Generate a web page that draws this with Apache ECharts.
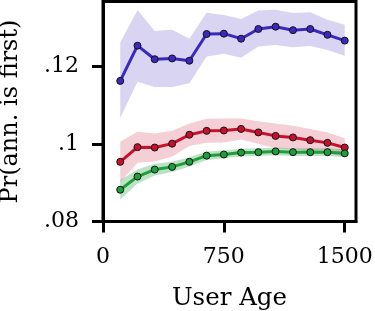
<!DOCTYPE html>
<html>
<head>
<meta charset="utf-8">
<script src="https://cdn.jsdelivr.net/npm/echarts@6/dist/echarts.min.js"></script>
<style>html,body{margin:0;padding:0;background:#fff;}#c{width:375px;height:311px;}</style>
</head>
<body>
<div id="c"></div>
<script>
const userAge = [107, 214, 321, 429, 536, 643, 750, 857, 964, 1071, 1179, 1286, 1393, 1500];

const purpleMean  = [0.1163, 0.1254, 0.1219, 0.1221, 0.1215, 0.1284, 0.1285, 0.1272, 0.1297, 0.1303, 0.1294, 0.1297, 0.1282, 0.1267];
const purpleUpper = [0.1262, 0.1346, 0.1292, 0.1295, 0.1272, 0.1339, 0.1333, 0.1323, 0.1345, 0.1347, 0.1338, 0.1340, 0.1321, 0.1308];
const purpleLower = [0.1067, 0.1161, 0.1147, 0.1147, 0.1157, 0.1226, 0.1233, 0.1223, 0.1252, 0.1256, 0.1250, 0.1253, 0.1243, 0.1228];

const redMean  = [0.0954, 0.0992, 0.0991, 0.1001, 0.1024, 0.1034, 0.1035, 0.1039, 0.1030, 0.1021, 0.1017, 0.1010, 0.1003, 0.0991];
const redUpper = [0.1006, 0.1032, 0.1027, 0.1034, 0.1053, 0.1065, 0.1066, 0.1066, 0.1059, 0.1053, 0.1047, 0.1039, 0.1030, 0.1015];
const redLower = [0.0902, 0.0952, 0.0955, 0.0968, 0.0995, 0.1003, 0.1004, 0.1012, 0.1001, 0.0989, 0.0987, 0.0981, 0.0976, 0.0967];

const greenMean  = [0.0882, 0.0916, 0.0934, 0.0941, 0.0954, 0.0970, 0.0973, 0.0978, 0.0979, 0.0981, 0.0979, 0.0979, 0.0979, 0.0976];
const greenUpper = [0.0907, 0.0934, 0.0949, 0.0954, 0.0966, 0.0981, 0.0983, 0.0988, 0.0989, 0.0991, 0.0989, 0.0989, 0.0989, 0.0986];
const greenLower = [0.0857, 0.0898, 0.0919, 0.0928, 0.0942, 0.0959, 0.0963, 0.0968, 0.0969, 0.0971, 0.0969, 0.0969, 0.0969, 0.0966];

const xTicks = [0, 750, 1500];
const xTickLabels = ['0', '750', '1500'];
const yTicks = [0.08, 0.1, 0.12];
const yTickLabels = ['.08', '.1', '.12'];

const FONT = 'DejaVu Serif';

function band(name, lower, upper, color, z) {
  return {
    name: name, type: 'custom', z: z, silent: true, animation: false,
    data: userAge.map((x, i) => [x, lower[i], upper[i]]),
    encode: { x: 0, y: [1, 2] },
    renderItem: function (params, api) {
      if (params.dataIndex !== 0) return null;
      const n = userAge.length;
      const top = [], bot = [];
      for (let i = 0; i < n; i++) {
        top.push(api.coord([userAge[i], upper[i]]));
        bot.push(api.coord([userAge[i], lower[i]]));
      }
      const pts = top.concat(bot.reverse());
      return { type: 'polygon', shape: { points: pts }, style: { fill: color }, z2: 0 };
    }
  };
}

function meanLine(name, ys, color) {
  return {
    name: name, type: 'line', data: userAge.map((x, i) => [x, ys[i]]),
    symbol: 'circle', symbolSize: 7, showAllSymbol: true,
    lineStyle: { color: color, width: 3 },
    itemStyle: { color: color, borderColor: '#111', borderWidth: 1 },
    z: 5, animation: false
  };
}

const chart = echarts.init(document.getElementById('c'), null, { renderer: 'canvas' });
chart.setOption({
  animation: false,
  grid: {
    left: 103, right: 19, top: 1.5, bottom: 89.5,
    outerBoundsMode: 'none', containLabel: false,
    show: true, borderColor: '#000', borderWidth: 3, backgroundColor: 'transparent'
  },
  xAxis: {
    type: 'value', min: 0, max: 1570,
    name: 'User Age', nameLocation: 'middle', nameGap: 65,
    nameTextStyle: { fontFamily: FONT, fontSize: 24.5, color: '#000' },
    axisLine: { show: true, lineStyle: { color: '#000', width: 3 } },
    axisTick: { show: true, inside: false, length: 11, lineStyle: { color: '#000', width: 3 }, customValues: xTicks },
    axisLabel: {
      customValues: xTicks, margin: 25, fontFamily: FONT, fontSize: 22, color: '#000',
      formatter: v => { const i = xTicks.indexOf(v); return i >= 0 ? xTickLabels[i] : ''; }
    },
    splitLine: { show: false }
  },
  yAxis: {
    type: 'value', min: 0.08, max: 0.1368,
    name: 'Pr(ann. is first)', nameLocation: 'middle', nameGap: 80, nameRotate: 90,
    nameTextStyle: { fontFamily: FONT, fontSize: 24, color: '#000' },
    axisLine: { show: true, lineStyle: { color: '#000', width: 3 } },
    axisTick: { show: true, inside: false, length: 11, lineStyle: { color: '#000', width: 3 }, customValues: yTicks },
    axisLabel: {
      customValues: yTicks, margin: 24, fontFamily: FONT, fontSize: 22, color: '#000',
      formatter: v => { let best = -1; yTicks.forEach((t, i) => { if (Math.abs(t - v) < 1e-9) best = i; }); return best >= 0 ? yTickLabels[best] : ''; }
    },
    splitLine: { show: false }
  },
  series: [
    band('purpleBand', purpleLower, purpleUpper, 'rgba(59,40,192,0.2)', 1),
    band('redBand', redLower, redUpper, 'rgba(200,16,46,0.2)', 2),
    band('greenBand', greenLower, greenUpper, 'rgba(30,160,60,0.3)', 3),
    meanLine('purple', purpleMean, '#3b28c0'),
    meanLine('red', redMean, '#c8102e'),
    meanLine('green', greenMean, '#1e9e3c')
  ]
});
</script>
</body>
</html>
